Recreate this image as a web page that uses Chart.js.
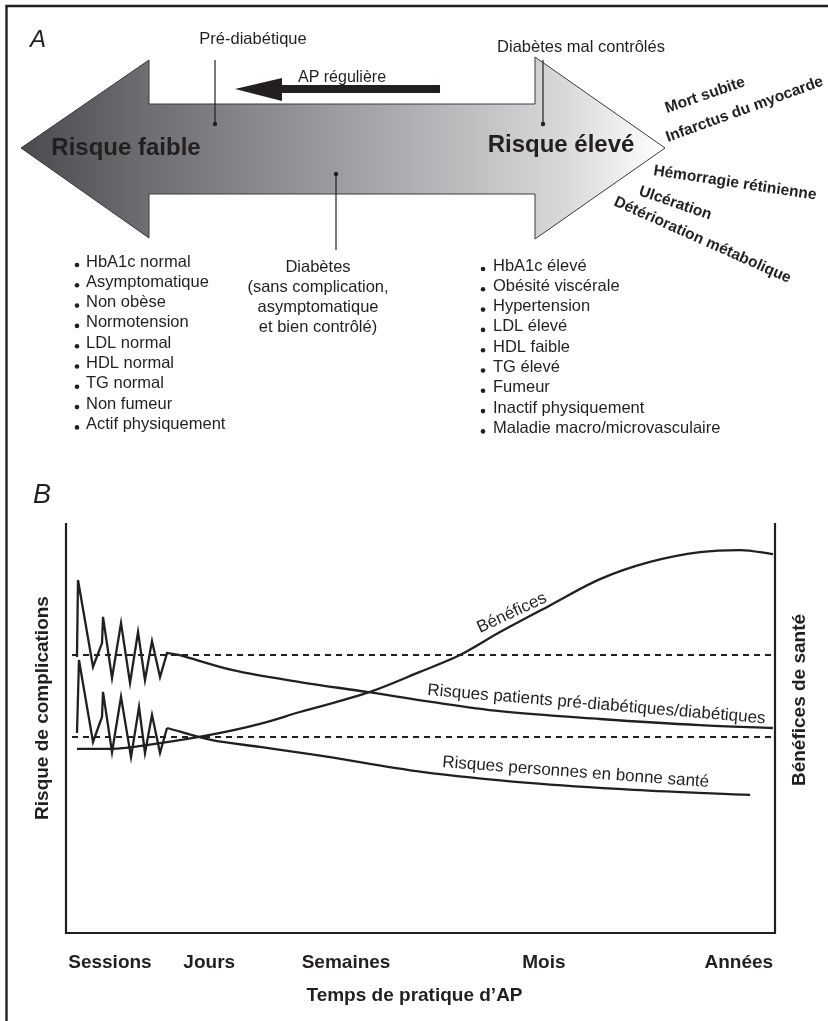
<!DOCTYPE html>
<html>
<head>
<meta charset="utf-8">
<script src="https://cdn.jsdelivr.net/npm/chart.js@4.4.0/dist/chart.umd.min.js"></script>
<style>
body { margin: 0; background: #fff; }
</style>
</head>
<body>
<canvas id="chart" width="828" height="1021"></canvas>
<script>
// axe du temps (B)
var timeLabels = ['Sessions', 'Jours', 'Semaines', 'Mois', 'Années'];
var timeTicks = [6.2, 20.2, 39.5, 67.4, 94.9];

// risques patients pré-diabétiques/diabétiques : séances puis tendance
var diabSessions = [[1.55, 67.3], [1.69, 86.1], [3.81, 64.9], [5.08, 70.7], [5.22, 77.1], [6.49, 62.2],
    [7.76, 75.6], [9.03, 61.0], [10.16, 73.4], [11.14, 61.7], [12.13, 71.2], [13.26, 62.4],
    [14.25, 68.3], [16.08, 67.8]];
var diabTrend = [[16.08, 67.8], [23.55, 64.1], [33.0, 61.2], [42.45, 58.8], [51.76, 56.3],
    [61.21, 54.1], [75.32, 52.2], [89.42, 50.7], [99.7, 50.0]];

// risques personnes en bonne santé
var healthySessions = [[1.55, 48.8], [1.83, 66.6], [3.81, 46.6], [5.08, 52.7], [5.22, 58.8], [6.49, 44.1],
    [7.76, 57.6], [9.17, 42.9], [10.30, 55.1], [11.14, 43.9], [12.13, 53.2], [13.26, 43.9],
    [14.25, 50.0]];
var healthyTrend = [[14.25, 50.0], [20.45, 47.1], [27.36, 45.4], [35.4, 43.4], [50.2, 39.3],
    [65.2, 36.6], [80.1, 34.9], [96.5, 33.7]];

// bénéfices de santé
var benefits = [[1.55, 44.9], [6.21, 44.9], [13.26, 46.3], [20.31, 48.3], [27.36, 51.0], [33.0, 53.9],
    [42.88, 58.8], [49.93, 63.7], [55.57, 67.8], [61.21, 73.4], [68.26, 79.9], [75.32, 86.3],
    [82.37, 90.5], [89.42, 92.9], [95.06, 93.4], [99.72, 92.4]];

// niveaux de risque de départ (pointillés)
var diabBaseline = 67.8;
var healthyBaseline = 47.8;
var baselineStart = 0.85;

// textes du panneau A
var lowRiskItems = ['HbA1c normal', 'Asymptomatique', 'Non obèse', 'Normotension', 'LDL normal',
    'HDL normal', 'TG normal', 'Non fumeur', 'Actif physiquement'];
var highRiskItems = ['HbA1c élevé', 'Obésité viscérale', 'Hypertension', 'LDL élevé', 'HDL faible',
    'TG élevé', 'Fumeur', 'Inactif physiquement', 'Maladie macro/microvasculaire'];
var complications = ['Mort subite', 'Infarctus du myocarde', 'Hémorragie rétinienne', 'Ulcération',
    'Détérioration métabolique'];
var diabetesNote = ['Diabètes', '(sans complication,', 'asymptomatique', 'et bien contrôlé)'];

var INK = '#231f20';
var FONT = '"Liberation Sans", Arial, sans-serif';

function pts(arr) {
    return arr.map(function (p) { return { x: p[0], y: p[1] }; });
}

function curve(data, smooth) {
    return {
        data: pts(data),
        borderColor: INK,
        borderWidth: 2.3,
        pointRadius: 0,
        tension: smooth ? 0.4 : 0,
        cubicInterpolationMode: smooth ? 'monotone' : 'default',
        borderJoinStyle: 'miter',
        fill: false
    };
}

function dashed(level) {
    return {
        data: [{ x: baselineStart, y: level }, { x: 100, y: level }],
        borderColor: INK,
        borderWidth: 2,
        borderDash: [6, 5],
        pointRadius: 0,
        fill: false
    };
}

function text(ctx, str, x, y, font, align, base, angle) {
    ctx.save();
    ctx.translate(x, y);
    if (angle) ctx.rotate(angle * Math.PI / 180);
    ctx.font = font;
    ctx.fillStyle = INK;
    ctx.textAlign = align || 'left';
    ctx.textBaseline = base || 'alphabetic';
    ctx.fillText(str, 0, 0);
    ctx.restore();
}

function pointer(ctx, x, y1, y2) {
    ctx.save();
    ctx.strokeStyle = INK;
    ctx.lineWidth = 1.2;
    ctx.beginPath();
    ctx.moveTo(x, y1);
    ctx.lineTo(x, y2);
    ctx.stroke();
    ctx.fillStyle = INK;
    ctx.beginPath();
    ctx.arc(x, y2, 2.2, 0, Math.PI * 2);
    ctx.fill();
    ctx.restore();
}

function drawPanelA(ctx) {
    // grande double flèche en dégradé
    var grad = ctx.createLinearGradient(21, 0, 665, 0);
    grad.addColorStop(0, '#4a4a4f');
    grad.addColorStop(0.2, '#6e6e73');
    grad.addColorStop(0.6, '#aeaeb2');
    grad.addColorStop(0.85, '#dadadc');
    grad.addColorStop(1, '#ffffff');
    ctx.save();
    ctx.beginPath();
    ctx.moveTo(21, 148);
    ctx.lineTo(149, 60);
    ctx.lineTo(149, 104);
    ctx.lineTo(535, 104);
    ctx.lineTo(535, 57);
    ctx.lineTo(665, 148);
    ctx.lineTo(535, 239);
    ctx.lineTo(535, 194);
    ctx.lineTo(149, 194);
    ctx.lineTo(149, 238);
    ctx.closePath();
    ctx.fillStyle = grad;
    ctx.fill();
    ctx.strokeStyle = '#3a3a3a';
    ctx.lineWidth = 1;
    ctx.stroke();

    // flèche noire AP régulière
    ctx.beginPath();
    ctx.moveTo(235, 89);
    ctx.lineTo(282, 78);
    ctx.lineTo(282, 85);
    ctx.lineTo(440, 85);
    ctx.lineTo(440, 93);
    ctx.lineTo(282, 93);
    ctx.lineTo(282, 101);
    ctx.closePath();
    ctx.fillStyle = INK;
    ctx.fill();
    ctx.restore();

    text(ctx, 'A', 30, 47, 'italic 24px ' + FONT);
    text(ctx, 'AP régulière', 342, 78, '16px ' + FONT, 'center', 'middle');
    text(ctx, 'Risque faible', 126, 148, 'bold 24px ' + FONT, 'center', 'middle');
    text(ctx, 'Risque élevé', 561, 145, 'bold 24px ' + FONT, 'center', 'middle');

    text(ctx, 'Pré-diabétique', 253, 39, '16.5px ' + FONT, 'center', 'middle');
    pointer(ctx, 215, 60, 124);
    text(ctx, 'Diabètes mal contrôlés', 581, 47, '16.5px ' + FONT, 'center', 'middle');
    pointer(ctx, 543, 60, 124);
    pointer(ctx, 336, 250, 174);
    diabetesNote.forEach(function (s, i) {
        text(ctx, s, 318, 267 + i * 20.3, '16.5px ' + FONT, 'center', 'middle');
    });

    // listes de facteurs
    function list(items, bx, tx, y0) {
        items.forEach(function (s, i) {
            var y = y0 + i * 20.3;
            ctx.fillStyle = INK;
            ctx.beginPath();
            ctx.arc(bx, y + 3, 2.3, 0, Math.PI * 2);
            ctx.fill();
            text(ctx, s, tx, y, '16.5px ' + FONT, 'left', 'middle');
        });
    }
    list(lowRiskItems, 77, 86, 262);
    list(highRiskItems, 483, 493, 266);

    // complications en éventail
    var spots = [[667, 113, -19], [668, 142, -20], [653, 175, 8.6], [638, 195, 19], [613, 205, 24]];
    complications.forEach(function (s, i) {
        text(ctx, s, spots[i][0], spots[i][1], 'bold 15.5px ' + FONT, 'left', 'alphabetic', spots[i][2]);
    });
}

var figurePlugin = {
    id: 'figure',
    beforeDraw: function (chart) {
        var ctx = chart.ctx;
        ctx.save();
        ctx.fillStyle = '#fff';
        ctx.fillRect(0, 0, chart.width, chart.height);
        ctx.restore();
        drawPanelA(ctx);
    },
    afterDraw: function (chart) {
        var ctx = chart.ctx;
        var a = chart.chartArea;
        var xs = chart.scales.x;

        ctx.save();
        ctx.strokeStyle = INK;
        ctx.lineWidth = 2.2;
        ctx.beginPath();
        ctx.moveTo(a.left, a.top);
        ctx.lineTo(a.left, a.bottom);
        ctx.lineTo(a.right, a.bottom);
        ctx.lineTo(a.right, a.top);
        ctx.stroke();

        // cadre de la figure
        ctx.lineWidth = 2.4;
        ctx.beginPath();
        ctx.moveTo(828, 6);
        ctx.lineTo(6.5, 6);
        ctx.lineTo(6.5, 1021);
        ctx.stroke();
        ctx.restore();

        timeLabels.forEach(function (lab, i) {
            text(ctx, lab, xs.getPixelForValue(timeTicks[i]), 963, 'bold 19px ' + FONT, 'center', 'middle');
        });
        text(ctx, 'Temps de pratique d\u2019AP', (a.left + a.right) / 2 - 6, 996, 'bold 19px ' + FONT, 'center', 'middle');
        text(ctx, 'Risque de complications', 43, 708, 'bold 19px ' + FONT, 'center', 'middle', -90);
        text(ctx, 'Bénéfices de santé', 800, 700, 'bold 19px ' + FONT, 'center', 'middle', -90);

        text(ctx, 'B', 33, 503, 'italic 27px ' + FONT);
        text(ctx, 'Bénéfices', 480, 633, '17px ' + FONT, 'left', 'alphabetic', -25);
        text(ctx, 'Risques patients pré-diabétiques/diabétiques', 427, 695, '17px ' + FONT, 'left', 'alphabetic', 4.8);
        text(ctx, 'Risques personnes en bonne santé', 442, 767, '17px ' + FONT, 'left', 'alphabetic', 4.3);
    }
};

new Chart(document.getElementById('chart'), {
    type: 'line',
    data: {
        datasets: [
            dashed(diabBaseline),
            dashed(healthyBaseline),
            curve(diabSessions, false),
            curve(diabTrend, true),
            curve(healthySessions, false),
            curve(healthyTrend, true),
            curve(benefits, true)
        ]
    },
    options: {
        responsive: false,
        animation: false,
        layout: { padding: { left: 66, top: 523, right: 53, bottom: 88 } },
        plugins: { legend: { display: false }, tooltip: { enabled: false } },
        scales: {
            x: { type: 'linear', min: 0, max: 100, display: false },
            y: { min: 0, max: 100, display: false }
        }
    },
    plugins: [figurePlugin]
});
</script>
</body>
</html>
